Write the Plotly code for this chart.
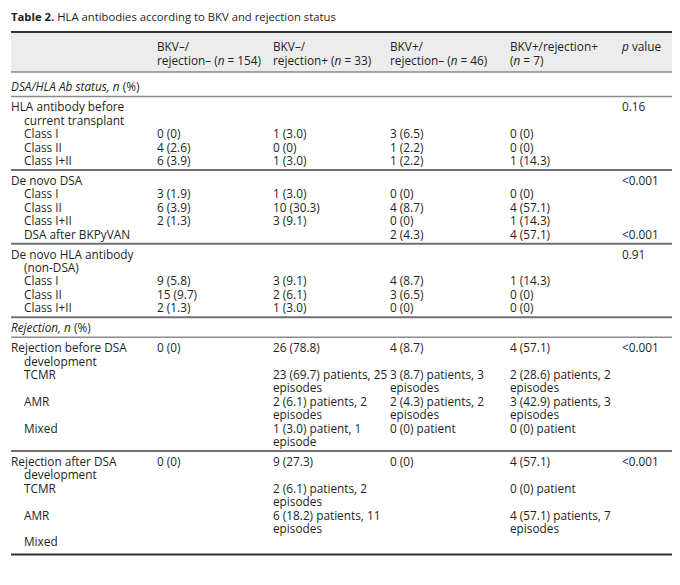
import plotly.graph_objects as go

# ---- table content ----
title_text = "<b>Table 2.</b> HLA antibodies according to BKV and rejection status"

col_headers = [
    "BKV–/<br>rejection– (<i>n</i> = 154)",
    "BKV–/<br>rejection+ (<i>n</i> = 33)",
    "BKV+/<br>rejection– (<i>n</i> = 46)",
    "BKV+/rejection+<br>(<i>n</i> = 7)",
    "<i>p</i> value",
]

section_titles = ["<i>DSA/HLA Ab status, n</i> (%)", "<i>Rejection, n</i> (%)"]
section_first_group = [0, 3]

row_labels = [
    "HLA antibody before<br>current transplant", "Class I", "Class II", "Class I+II",
    "De novo DSA", "Class I", "Class II", "Class I+II", "DSA after BKPyVAN",
    "De novo HLA antibody<br>(non-DSA)", "Class I", "Class II", "Class I+II",
    "Rejection before DSA<br>development", "TCMR", "AMR", "Mixed",
    "Rejection after DSA<br>development", "TCMR", "AMR", "Mixed",
]
row_group = [0, 0, 0, 0, 1, 1, 1, 1, 1, 2, 2, 2, 2, 3, 3, 3, 3, 4, 4, 4, 4]
row_is_sub = [0, 1, 1, 1, 0, 1, 1, 1, 1, 0, 1, 1, 1, 0, 1, 1, 1, 0, 1, 1, 1]

bkv_neg_rej_neg = [
    "", "0 (0)", "4 (2.6)", "6 (3.9)",
    "", "3 (1.9)", "6 (3.9)", "2 (1.3)", "",
    "", "9 (5.8)", "15 (9.7)", "2 (1.3)",
    "0 (0)", "", "", "",
    "0 (0)", "", "", "",
]
bkv_neg_rej_pos = [
    "", "1 (3.0)", "0 (0)", "1 (3.0)",
    "", "1 (3.0)", "10 (30.3)", "3 (9.1)", "",
    "", "3 (9.1)", "2 (6.1)", "1 (3.0)",
    "26 (78.8)", "23 (69.7) patients, 25<br>episodes",
    "2 (6.1) patients, 2<br>episodes", "1 (3.0) patient, 1<br>episode",
    "9 (27.3)", "2 (6.1) patients, 2<br>episodes",
    "6 (18.2) patients, 11<br>episodes", "",
]
bkv_pos_rej_neg = [
    "", "3 (6.5)", "1 (2.2)", "1 (2.2)",
    "", "0 (0)", "4 (8.7)", "0 (0)", "2 (4.3)",
    "", "4 (8.7)", "3 (6.5)", "0 (0)",
    "4 (8.7)", "3 (8.7) patients, 3<br>episodes",
    "2 (4.3) patients, 2<br>episodes", "0 (0) patient",
    "0 (0)", "", "", "",
]
bkv_pos_rej_pos = [
    "", "0 (0)", "0 (0)", "1 (14.3)",
    "", "0 (0)", "4 (57.1)", "1 (14.3)", "4 (57.1)",
    "", "1 (14.3)", "0 (0)", "0 (0)",
    "4 (57.1)", "2 (28.6) patients, 2<br>episodes",
    "3 (42.9) patients, 3<br>episodes", "0 (0) patient",
    "4 (57.1)", "0 (0) patient", "4 (57.1) patients, 7<br>episodes", "",
]
p_values = [
    "0.16", "", "", "",
    "<0.001", "", "", "", "<0.001",
    "0.91", "", "", "",
    "<0.001", "", "", "",
    "<0.001", "", "", "",
]

columns = [bkv_neg_rej_neg, bkv_neg_rej_pos, bkv_pos_rej_neg, bkv_pos_rej_pos, p_values]

# ---- layout geometry (pixels of the 680 x 585 page) ----
# the page body has an 8px margin, so the figure is 664 x 569 and its
# axes are set to page pixels 8..672 / 8..577
W, H = 680, 585
PAGE_PAD = 8
FONT = "Open Sans"
INK = "#231f20"
FS = 11.8
LINE = 13.4
TEXT_DY = 1.5   # nudge so glyphs sit on the line centres
X_LABEL, X_INDENT, X_RIGHT = 11, 24, 672
X_COLS = [157, 273, 390, 510, 622]
Y_TITLE, Y_TOP, Y_HEAD, Y_HEAD_RULE = 17, 32, 47, 72

xs, ys, ts = [], [], []


def put(x, y, t):
    xs.append(x)
    ys.append(y + TEXT_DY)
    ts.append(t)


# header
for cx, head in zip(X_COLS, col_headers):
    for k, part in enumerate(head.split("<br>")):
        put(cx, Y_HEAD + k * LINE, part)

rules = [(Y_TOP, 2, "#333333"), (Y_HEAD_RULE, 1, "#555555")]

cur = Y_HEAD_RULE + 4.5
n_groups = max(row_group) + 1
for g in range(n_groups):
    if g in section_first_group:
        ty = cur + 10.5
        put(X_LABEL, ty, section_titles[section_first_group.index(g)])
        cur = ty + 9.5
        rules.append((cur, 1.5, "#8c8c8c"))
    y = cur + 10.5
    for i in [r for r in range(len(row_labels)) if row_group[r] == g]:
        label_lines = row_labels[i].split("<br>")
        n = len(label_lines)
        for k, part in enumerate(label_lines):
            x = X_INDENT if (row_is_sub[i] or k > 0) else X_LABEL
            put(x, y + k * LINE, part)
        for cx, col in zip(X_COLS, columns):
            if col[i]:
                parts = col[i].split("<br>")
                n = max(n, len(parts))
                for k, part in enumerate(parts):
                    put(cx, y + k * LINE, part)
        y += n * LINE
    last = y - LINE
    if g == n_groups - 1:
        rules.append((last + 12.5, 2, "#333333"))
    else:
        rules.append((last + 9.5, 2, "#707070"))
        cur = last + 9.5

fig = go.Figure()

fig.add_trace(go.Scatter(
    x=xs, y=ys, text=ts,
    mode="text",
    textposition="middle right",
    textfont=dict(family=FONT, size=FS, color=INK),
    hoverinfo="skip",
    showlegend=False,
))

# header band and rules
shapes = [dict(type="rect", xref="x", yref="y", x0=X_LABEL, x1=X_RIGHT,
               y0=Y_TOP, y1=Y_HEAD_RULE, fillcolor="#ececec", line=dict(width=0),
               layer="below")]
for ry, lw, lc in rules:
    shapes.append(dict(type="line", xref="x", yref="y", x0=X_LABEL, x1=X_RIGHT,
                       y0=ry, y1=ry, line=dict(color=lc, width=lw)))

fig_w, fig_h = W - 2 * PAGE_PAD, H - 2 * PAGE_PAD

fig.update_layout(
    width=fig_w, height=fig_h,
    margin=dict(l=0, r=0, t=0, b=0),
    paper_bgcolor="white", plot_bgcolor="white",
    shapes=shapes,
    xaxis=dict(range=[PAGE_PAD, W - PAGE_PAD], visible=False, fixedrange=True),
    yaxis=dict(range=[H - PAGE_PAD, PAGE_PAD], visible=False, fixedrange=True),
    title=dict(text=title_text, x=(X_LABEL - PAGE_PAD) / fig_w, xanchor="left",
               y=1 - (Y_TITLE - PAGE_PAD) / fig_h, yanchor="middle",
               font=dict(family=FONT, size=11.3, color=INK)),
)

fig.write_html("out.html")
